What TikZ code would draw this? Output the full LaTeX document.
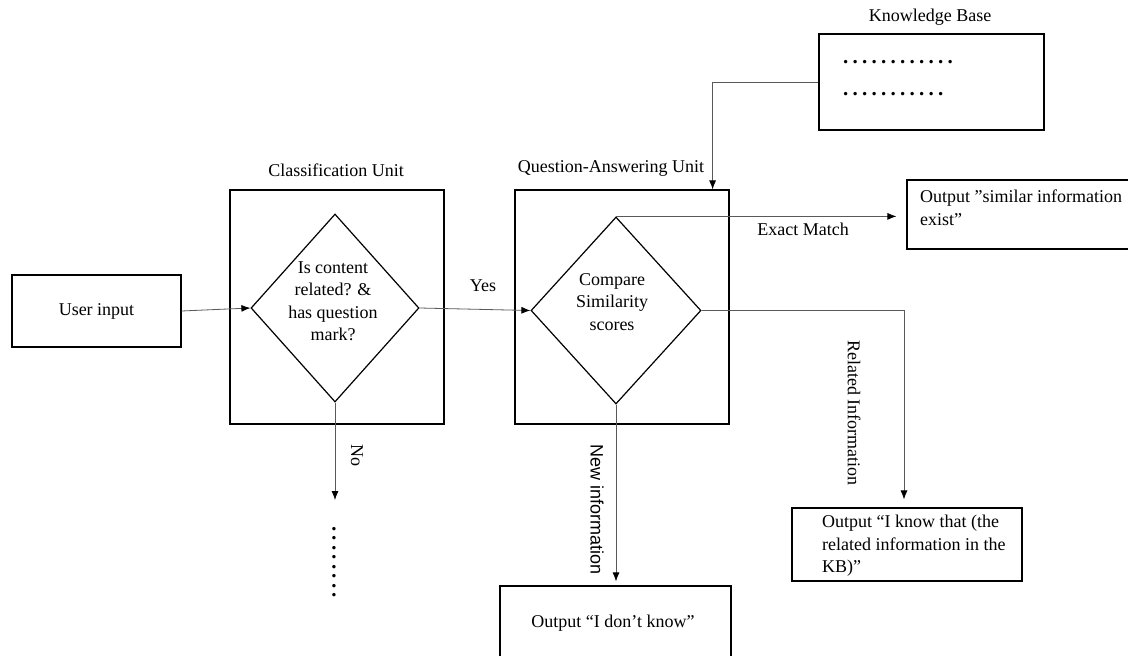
\documentclass[tikz,border=0pt]{standalone}
\usepackage{fontspec}
\setmainfont{Liberation Serif}
\newfontfamily\arialfont{Liberation Sans}
\usetikzlibrary{shapes.geometric,arrows.meta,calc}

% a row of evenly spaced dots
\newcount\dotcnt
\newcommand\dotrow[1]{\dotcnt=0 \loop\makebox[9.5pt][l]{.}\advance\dotcnt by 1 \ifnum\dotcnt<#1 \repeat}
\newcommand\bodyfont{\fontsize{18}{22.5}\selectfont}

\begin{document}
\begin{tikzpicture}[x=1pt,y=-1pt,
  font=\bodyfont,
  box/.style={draw, line width=1.2pt, rectangle, inner sep=0pt},
  dec/.style={draw, line width=1.2pt, diamond, inner sep=0pt},
  lbl/.style={inner sep=0pt},
  dots/.style={inner sep=0pt, font=\fontsize{21}{24}\selectfont\bfseries},
  flow/.style={draw=black!65, line width=0.8pt, -{Latex[length=9pt,width=7pt,color=black]}}
]
\useasboundingbox (0,0) rectangle (1128,656);

% input
\node[box, minimum width=169pt, minimum height=72pt] (user) at (96.5,311) {User input};

% classification unit
\node[box, minimum width=214pt, minimum height=234pt] (cls) at (337,307) {};
\node[lbl] (clst) at (336,170) {Classification Unit};
\node[dec, minimum width=168pt, minimum height=188pt] (d1) at (335,308) {};
\node[lbl, align=center] (d1t) at (333,301) {Is content\\related? \&\\has question\\mark?};

% question-answering unit
\node[box, minimum width=214pt, minimum height=234pt] (qa) at (622,307) {};
\node[lbl] (qat) at (611,168) {Question-Answering Unit};
\node[dec, minimum width=170pt, minimum height=187pt] (d2) at (616,310.5) {};
\node[lbl, align=center] (d2t) at (612,302) {Compare\\Similarity\\scores};

% knowledge base
\node[box, minimum width=225pt, minimum height=96pt] (kb) at (931.5,82) {};
\node[lbl] (kbt) at (930,17) {Knowledge Base};
\node[dots, anchor=west] (kbr1) at (843,62) {\dotrow{12}};
\node[dots, anchor=west] (kbr2) at (843,94) {\dotrow{11}};

% outputs
\node[box, minimum width=260pt, minimum height=69pt] (sim) at (1037,214.5) {};
\node[lbl, anchor=north west, align=left] (simt) at (920,190) {Output ”similar information\\exist”};

\node[box, minimum width=230pt, minimum height=73pt] (kbout) at (907,544.5) {};
\node[lbl, anchor=north west, align=left] (kboutt) at (822,515) {Output “I know that (the\\related information in the\\KB)”};

\node[box, minimum width=231pt, minimum height=100pt] (dk) at (615.5,636) {};
\node[lbl] (dkt) at (613,623) {Output “I don’t know”};

% connectors
\draw[flow] (user.east) -- (d1.west);
\draw[flow] (d1.east) -- (d2.west);
\node[lbl] (yes) at (483,286) {Yes};

\coordinate (noend) at (335,500);
\draw[flow] (d1.south) -- (noend);
\node[lbl, rotate=-90] (no) at (357,455) {No};
\node[dots, rotate=-90, anchor=west] (more) at (334,526) {\dotrow{8}};

\draw[flow, shorten >=10pt] (d2.north) -- (d2.north -| sim.west);
\node[lbl] (exact) at (803,229) {Exact Match};

\draw[flow] (kb.west) -| ($(qa.north east)+(-17,0)$);

\draw[flow, shorten >=8pt] (d2.east) -| ([xshift=-3pt]kbout.north);
\node[lbl, rotate=-90] (rel) at (854,413) {Related Information};

\draw[flow, shorten >=4pt] (d2.south) -- (d2.south |- dk.north);
\node[lbl, rotate=-90, font=\arialfont\bodyfont] (new) at (597,510) {New information};
\end{tikzpicture}
\end{document}
